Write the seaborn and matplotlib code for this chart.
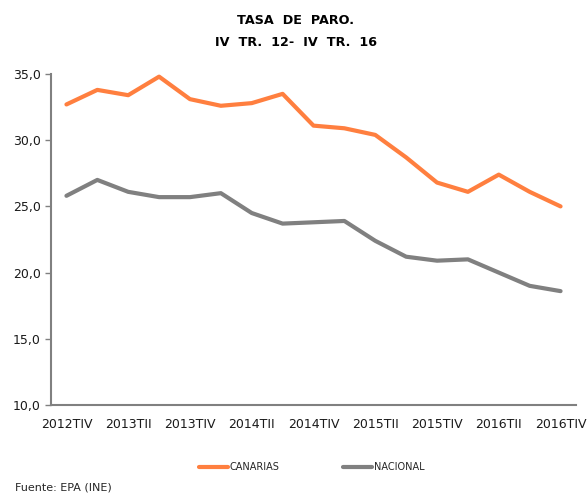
import numpy as np
import pandas as pd
import matplotlib
matplotlib.use("Agg")
import matplotlib.pyplot as plt
import seaborn as sns

periodos = [
    "2012TIV",
    "2013TI", "2013TII", "2013TIII", "2013TIV",
    "2014TI", "2014TII", "2014TIII", "2014TIV",
    "2015TI", "2015TII", "2015TIII", "2015TIV",
    "2016TI", "2016TII", "2016TIII", "2016TIV",
]
canarias = [32.7, 33.8, 33.4, 34.8, 33.1, 32.6, 32.8, 33.5, 31.1,
            30.9, 30.4, 28.7, 26.8, 26.1, 27.4, 26.1, 25.0]
nacional = [25.8, 27.0, 26.1, 25.7, 25.7, 26.0, 24.5, 23.7, 23.8,
            23.9, 22.4, 21.2, 20.9, 21.0, 20.0, 19.0, 18.6]
y_ticks = [10, 15, 20, 25, 30, 35]

df = pd.DataFrame({
    "pos": list(range(len(periodos))) * 2,
    "tasa": canarias + nacional,
    "serie": ["CANARIAS"] * len(periodos) + ["NACIONAL"] * len(periodos),
})

sns.set_style("white")
plt.rcParams["font.family"] = ["DejaVu Sans"]

fig = plt.figure(figsize=(5.88, 5.0), dpi=100)
ax = fig.add_axes([51 / 588, 0.19, (576 - 51) / 588, 0.852 - 0.19])

colores = {"CANARIAS": "#ff7f3f", "NACIONAL": "#808080"}
sns.lineplot(
    data=df,
    x="pos",
    y="tasa",
    hue="serie",
    palette=colores,
    linewidth=3.0,
    legend=False,
    ax=ax,
)

n = len(periodos)
ax.set_xlim(-0.5, n - 0.5)
ax.set_ylim(10, 35)
ax.set_yticks(y_ticks)
ax.set_yticklabels([f"{v:.1f}".replace(".", ",") for v in y_ticks],
                   fontsize=9, color="#1a1a1a")

# marcas en los limites de categoria, etiquetas cada 2 trimestres
ax.set_xticks(np.arange(-0.5, n, 1.0), minor=False)
ax.set_xticklabels([])
ax.set_xticks(np.arange(0, n, 2), minor=True)
ax.set_xticklabels(periodos[::2], minor=True, fontsize=9, color="#1a1a1a")
ax.tick_params(axis="x", which="major", length=4, color="#808080", width=1)
ax.tick_params(axis="x", which="minor", length=0, pad=9)
ax.tick_params(axis="y", length=4, color="#808080", width=1, left=True)

for side in ["top", "right"]:
    ax.spines[side].set_visible(False)
for side in ["left", "bottom"]:
    ax.spines[side].set_color("#808080")
    ax.spines[side].set_linewidth(1.5)

ax.set_xlabel("")
ax.set_ylabel("")
ax.grid(False)

fig.text(0.503, 0.972, "TASA  DE  PARO.\nIV  TR.  12-  IV  TR.  16",
         ha="center", va="top", fontsize=9.2, fontweight="bold",
         color="black", linespacing=1.85)

handles = [
    plt.Line2D([], [], color=colores["CANARIAS"], linewidth=3),
    plt.Line2D([], [], color=colores["NACIONAL"], linewidth=3),
]
fig.legend(handles, ["CANARIAS", "NACIONAL"], loc="center",
           bbox_to_anchor=(0.53, 0.066), ncol=2, frameon=False,
           fontsize=7, handlelength=3.0, columnspacing=6.5, handletextpad=0.2)

fig.text(15 / 588, 0.014, "Fuente: EPA (INE)", fontsize=8, ha="left", va="bottom")

fig.savefig("out.png", dpi=100)
